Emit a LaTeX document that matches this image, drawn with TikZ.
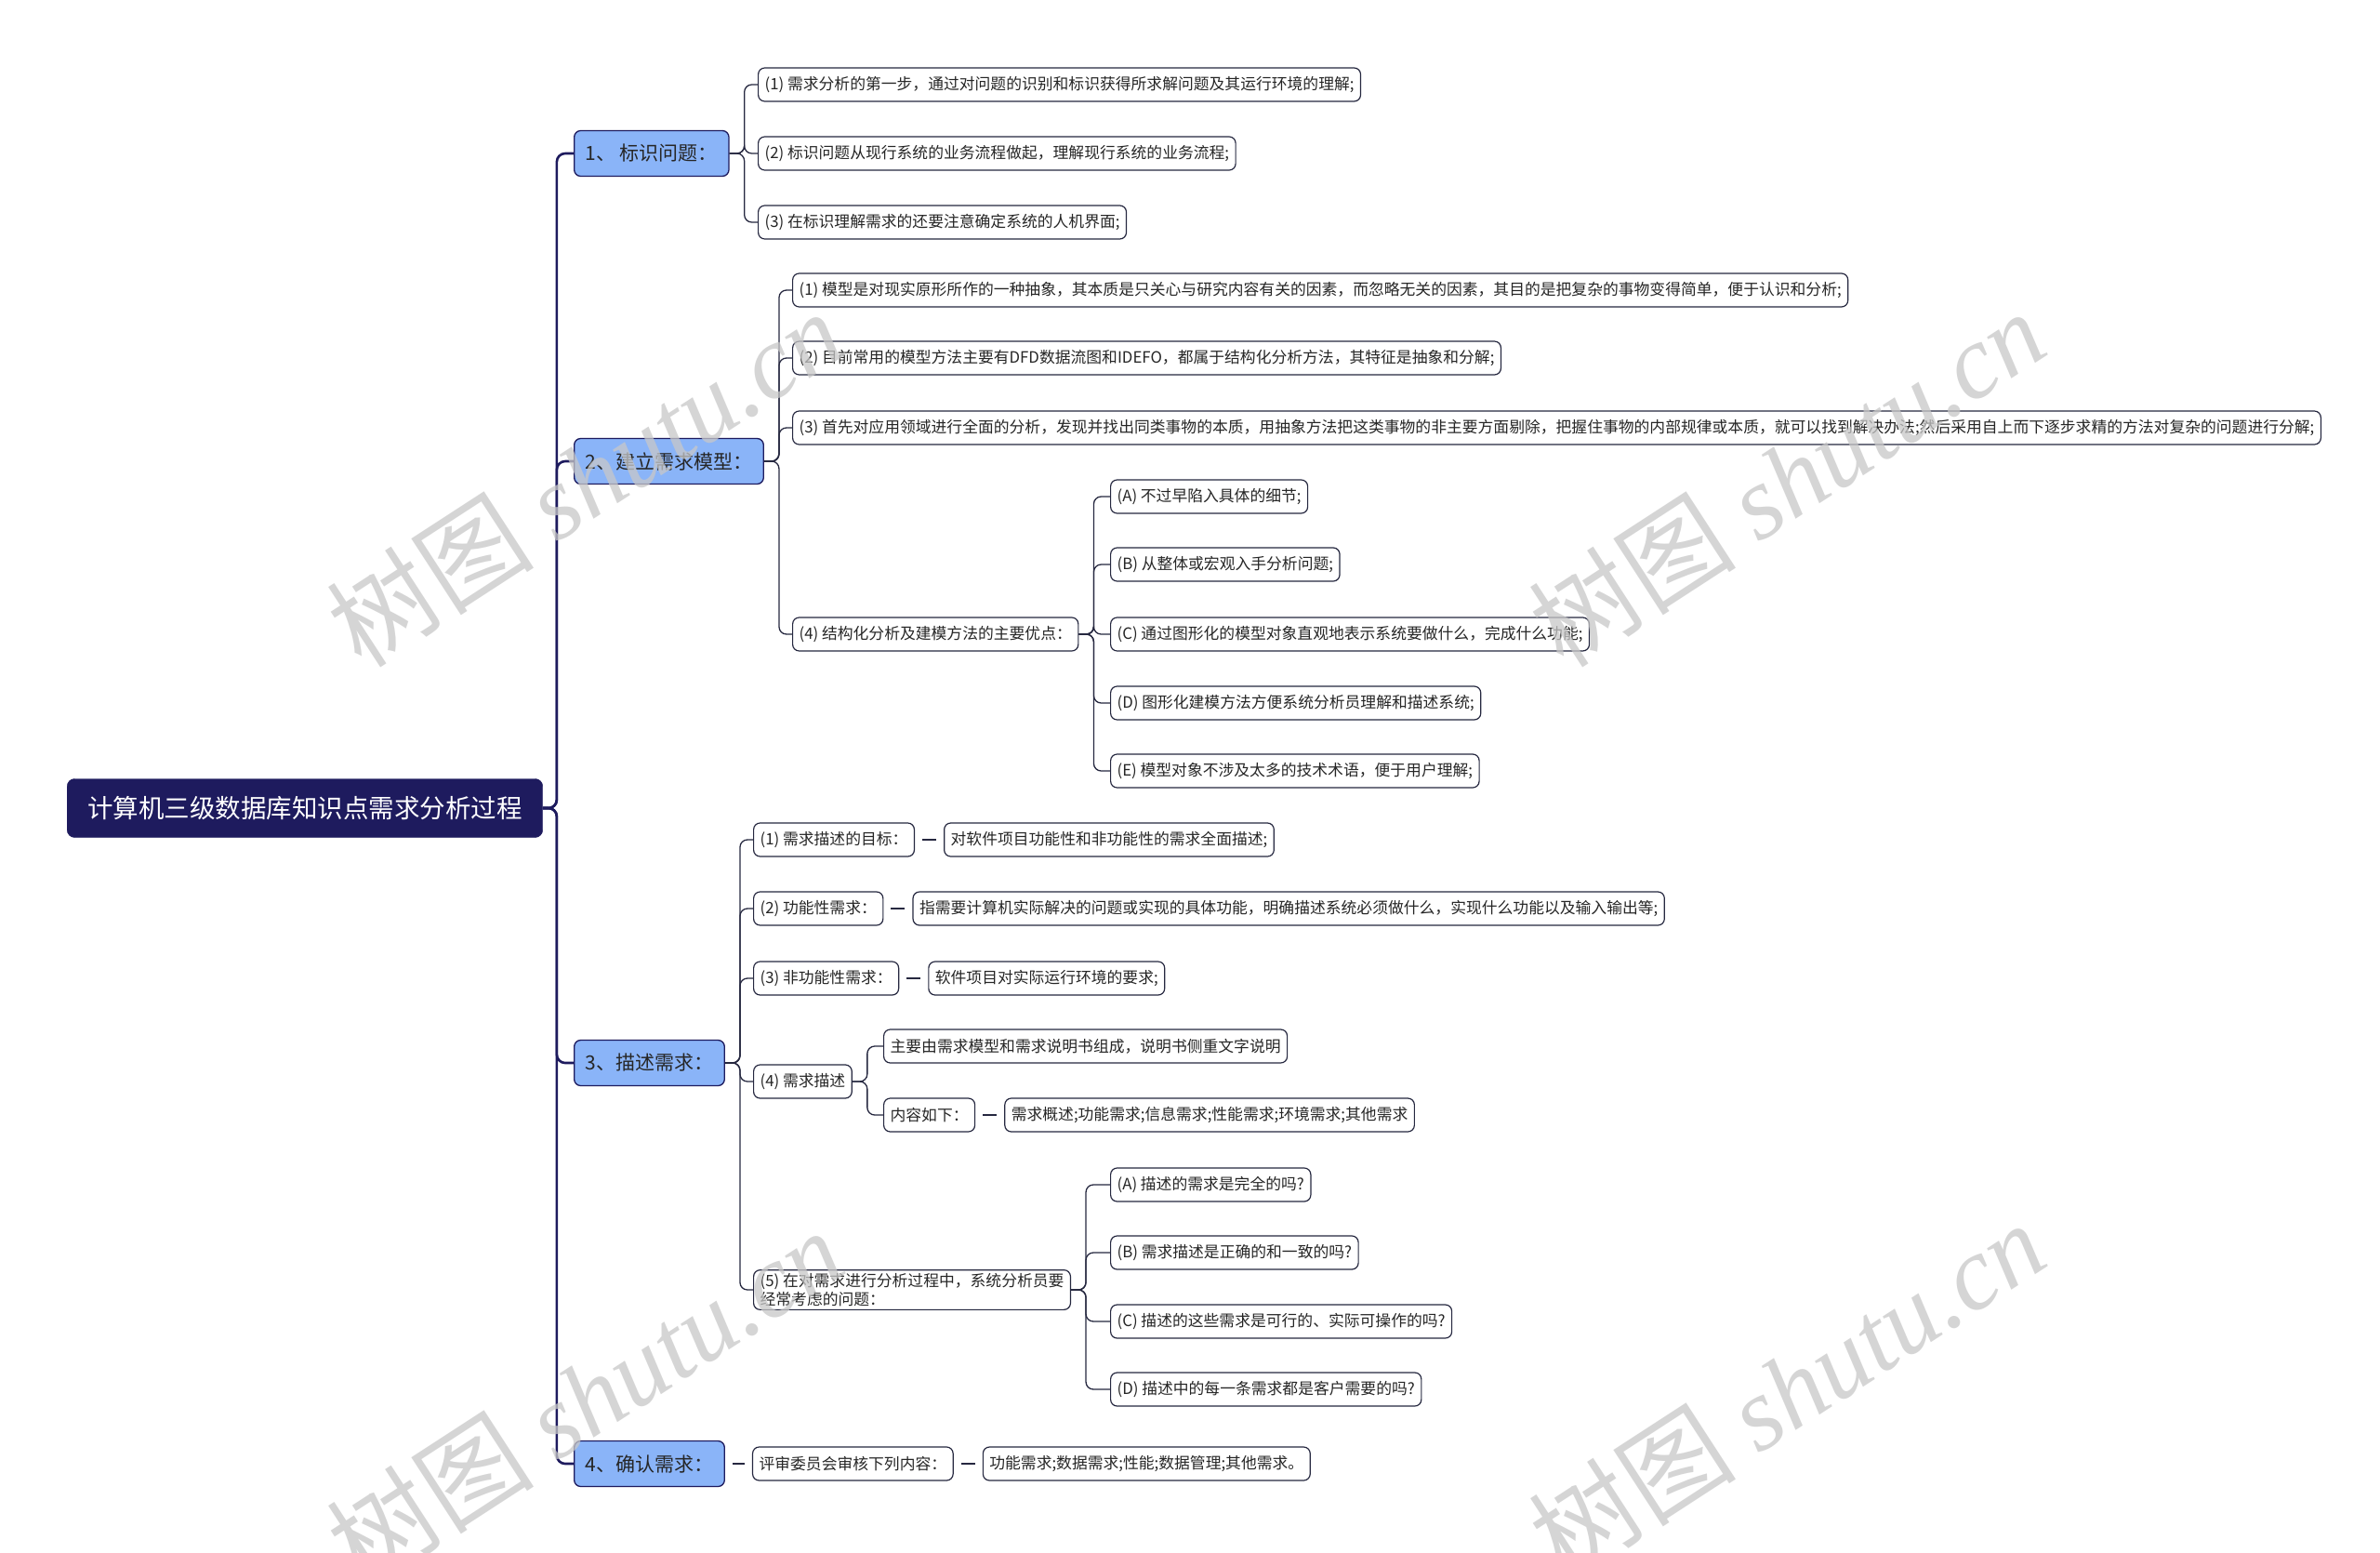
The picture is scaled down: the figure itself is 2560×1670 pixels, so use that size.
\documentclass[tikz,border=0pt]{standalone}
\usepackage{fontspec}
\setmainfont{Noto Sans CJK SC}
\newfontfamily\markfont{Liberation Serif}
\usetikzlibrary{positioning, calc}
\definecolor{rootnavy}{HTML}{1E1B5E}
\definecolor{topicblue}{HTML}{8AB4F8}
\definecolor{linkdark}{HTML}{262840}
\definecolor{markgray}{HTML}{C8C8C8}

\begin{document}
\begin{tikzpicture}[
    x=1pt, y=-1pt,
    root/.style={draw=rootnavy, fill=rootnavy, text=white, rounded corners=8pt, minimum height=63pt, inner xsep=22pt, font=\fontsize{27.5}{33}\selectfont, anchor=west},
    topic/.style={draw=rootnavy, fill=topicblue, text=black!85, line width=1.3pt, rounded corners=7pt, minimum height=49pt, inner xsep=12pt, font=\fontsize{21}{25}\selectfont, anchor=west},
    leaf/.style={draw=linkdark, fill=white, text=black!85, line width=1.2pt, rounded corners=7pt, minimum height=36pt, inner xsep=7pt, font=\fontsize{16.8}{20.5}\selectfont, anchor=west},
    trunk/.style={draw=rootnavy, line width=2.6pt, rounded corners=9pt},
    branch/.style={draw=linkdark, line width=1.3pt, rounded corners=8pt},
    stub/.style={draw=linkdark, line width=2pt, shorten <=8pt, shorten >=8pt},
    wmark/.style={text=markgray, opacity=0.75, rotate=33, font=\fontsize{112}{120}\selectfont},
]
    \fill[white] (0,0) rectangle (2560,1670);
    \useasboundingbox (0,0) rectangle (2560,1670);

    % Root
    \node[root] (root) at (72,869) {计算机三级数据库知识点需求分析过程};

    % Main topics
    \node[topic] (t1) at (617,165) {1、 标识问题：};
    \node[topic] (t2) at (617,496) {2、建立需求模型：};
    \node[topic] (t3) at (617,1143) {3、描述需求：};
    \node[topic] (t4) at (617,1574) {4、确认需求：};

    \foreach \t in {t1,t2,t3,t4}
        \draw[trunk] (root.east) -- ++(15,0) |- (\t.west);

    % 1 - identify
    \node[leaf] (t1a) at (815,91) {(1) 需求分析的第一步，通过对问题的识别和标识获得所求解问题及其运行环境的理解;};
    \node[leaf] (t1b) at (815,165) {(2) 标识问题从现行系统的业务流程做起，理解现行系统的业务流程;};
    \node[leaf] (t1c) at (815,239) {(3) 在标识理解需求的还要注意确定系统的人机界面;};

    \foreach \c in {t1a,t1b,t1c}
        \draw[branch] (t1.east) -- ++(16,0) |- (\c.west);

    % 2 - model
    \node[leaf] (t2a) at (852,312) {(1) 模型是对现实原形所作的一种抽象，其本质是只关心与研究内容有关的因素，而忽略无关的因素，其目的是把复杂的事物变得简单，便于认识和分析;};
    \node[leaf] (t2b) at (852,385) {(2) 目前常用的模型方法主要有DFD数据流图和IDEFO，都属于结构化分析方法，其特征是抽象和分解;};
    \node[leaf] (t2c) at (852,460) {(3) 首先对应用领域进行全面的分析，发现并找出同类事物的本质，用抽象方法把这类事物的非主要方面剔除，把握住事物的内部规律或本质，就可以找到解决办法;然后采用自上而下逐步求精的方法对复杂的问题进行分解;};
    \node[leaf] (t2d) at (852,682) {(4) 结构化分析及建模方法的主要优点：};

    \foreach \c in {t2a,t2b,t2c,t2d}
        \draw[branch] (t2.east) -- ++(16,0) |- (\c.west);

    \node[leaf] (t2dA) at (1194,534) {(A) 不过早陷入具体的细节;};
    \node[leaf] (t2dB) at (1194,607) {(B) 从整体或宏观入手分析问题;};
    \node[leaf] (t2dC) at (1194,682) {(C) 通过图形化的模型对象直观地表示系统要做什么，完成什么功能;};
    \node[leaf] (t2dD) at (1194,756) {(D) 图形化建模方法方便系统分析员理解和描述系统;};
    \node[leaf] (t2dE) at (1194,829) {(E) 模型对象不涉及太多的技术术语，便于用户理解;};

    \foreach \c in {t2dA,t2dB,t2dC,t2dD,t2dE}
        \draw[branch] (t2d.east) -- ++(16,0) |- (\c.west);

    % 3 - describe
    \node[leaf] (t3a) at (810,903) {(1) 需求描述的目标：};
    \node[leaf] (t3b) at (810,977) {(2) 功能性需求：};
    \node[leaf] (t3c) at (810,1052) {(3) 非功能性需求：};
    \node[leaf] (t3d) at (810,1163) {(4) 需求描述};
    \node[leaf, align=left] (t3e) at (810,1387) {(5) 在对需求进行分析过程中，系统分析员要\\经常考虑的问题：};

    \foreach \c in {t3a,t3b,t3c,t3d,t3e}
        \draw[branch] (t3.east) -- ++(16,0) |- (\c.west);

    \node[leaf, right=31pt of t3a] (t3a1) {对软件项目功能性和非功能性的需求全面描述;};
    \node[leaf, right=31pt of t3b] (t3b1) {指需要计算机实际解决的问题或实现的具体功能，明确描述系统必须做什么，实现什么功能以及输入输出等;};
    \node[leaf, right=31pt of t3c] (t3c1) {软件项目对实际运行环境的要求;};
    \draw[stub] (t3a) -- (t3a1);
    \draw[stub] (t3b) -- (t3b1);
    \draw[stub] (t3c) -- (t3c1);

    \node[leaf] (t3d1) at (950,1125) {主要由需求模型和需求说明书组成，说明书侧重文字说明};
    \node[leaf] (t3d2) at (950,1199) {内容如下：};
    \node[leaf, right=31pt of t3d2] (t3d21) {需求概述;功能需求;信息需求;性能需求;环境需求;其他需求};
    \foreach \c in {t3d1,t3d2}
        \draw[branch] (t3d.east) -- ++(16,0) |- (\c.west);
    \draw[stub] (t3d2) -- (t3d21);

    \node[leaf] (t3eA) at (1194,1274) {(A) 描述的需求是完全的吗?};
    \node[leaf] (t3eB) at (1194,1347) {(B) 需求描述是正确的和一致的吗?};
    \node[leaf] (t3eC) at (1194,1421) {(C) 描述的这些需求是可行的、实际可操作的吗?};
    \node[leaf] (t3eD) at (1194,1494) {(D) 描述中的每一条需求都是客户需要的吗?};

    \foreach \c in {t3eA,t3eB,t3eC,t3eD}
        \draw[branch] (t3e.east) -- ++(16,0) |- (\c.west);

    % 4 - confirm
    \node[leaf, right=29pt of t4] (t4a) {评审委员会审核下列内容：};
    \node[leaf, right=31pt of t4a] (t4a1) {功能需求;数据需求;性能;数据管理;其他需求。};
    \draw[stub] (t4) -- (t4a);
    \draw[stub] (t4a) -- (t4a1);

    % watermarks
    \node[wmark] (wm1) at (629,514) {树图 {\markfont\itshape shutu.cn}};
    \node[wmark] (wm2) at (1922,514) {树图 {\markfont\itshape shutu.cn}};
    \node[wmark] (wm3) at (629,1502) {树图 {\markfont\itshape shutu.cn}};
    \node[wmark] (wm4) at (1922,1494) {树图 {\markfont\itshape shutu.cn}};

\end{tikzpicture}
\end{document}
